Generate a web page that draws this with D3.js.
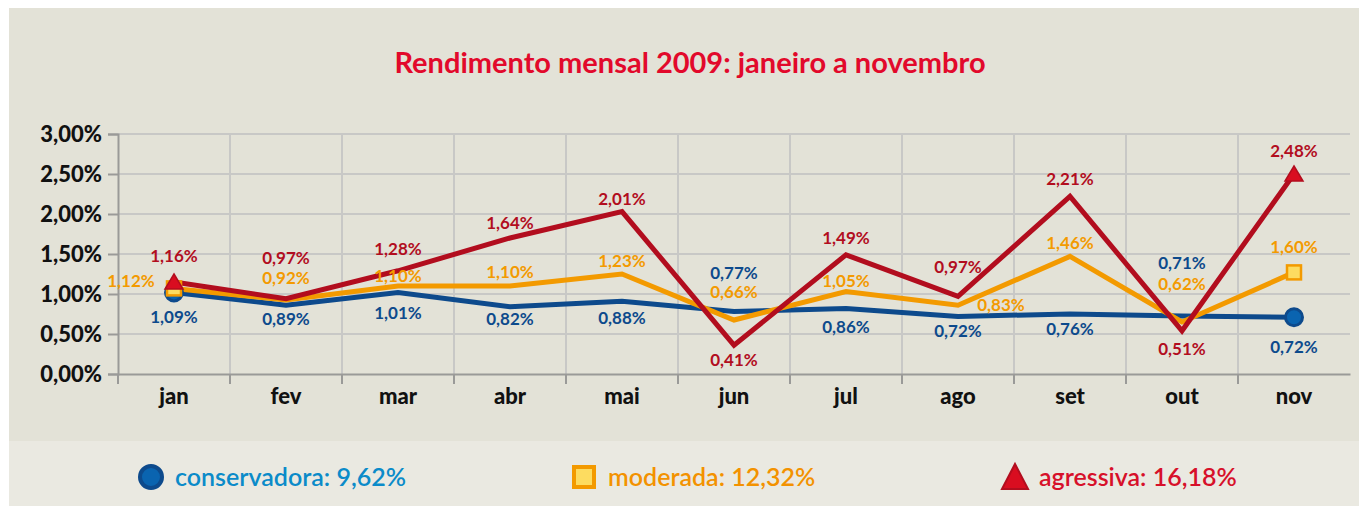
<!DOCTYPE html>
<html>
<head>
<meta charset="utf-8">
<script src="https://cdn.jsdelivr.net/npm/d3@7"></script>
<style>
  body { margin: 0; background: #fff; }
  text { font-family: Lato, "Open Sans", sans-serif; }
</style>
</head>
<body>
<div id="chart"></div>
<script>
// months and plotted values (percent)
var months = ['jan', 'fev', 'mar', 'abr', 'mai', 'jun', 'jul', 'ago', 'set', 'out', 'nov'];
var conservadora = [1.02, 0.86, 1.02, 0.84, 0.91, 0.78, 0.82, 0.72, 0.75, 0.725, 0.71];
var moderada = [1.07, 0.925, 1.10, 1.10, 1.25, 0.675, 1.03, 0.86, 1.47, 0.65, 1.27];
var agressiva = [1.15, 0.94, 1.29, 1.70, 2.03, 0.36, 1.49, 0.97, 2.22, 0.54, 2.50];

// printed value labels
var conservadoraLabels = ['1,09%', '0,89%', '1,01%', '0,82%', '0,88%', '0,77%', '0,86%', '0,72%', '0,76%', '0,71%', '0,72%'];
var moderadaLabels = ['1,12%', '0,92%', '1,10%', '1,10%', '1,23%', '0,66%', '1,05%', '0,83%', '1,46%', '0,62%', '1,60%'];
var agressivaLabels = ['1,16%', '0,97%', '1,28%', '1,64%', '2,01%', '0,41%', '1,49%', '0,97%', '2,21%', '0,51%', '2,48%'];

var yTicks = [0, 0.5, 1, 1.5, 2, 2.5, 3];
var legendItems = ['conservadora: 9,62%', 'moderada: 12,32%', 'agressiva: 16,18%'];
var title = 'Rendimento mensal 2009: janeiro a novembro';

// label placement (pixel offsets from the point)
var consDy = [25, 14, 21, 12, 17, -39, 19, 15, 15, -53, 30];
var modDy = [-7, -22, -10, -14, -13, -28, -11, 0, -13, -38, -25];
var modDx = [-43, 0, 0, 0, 0, 0, 0, 43, 0, 0, 0];
var aggDy = [-26, -41, -22, -15, -13, 15, -17, -29, -17, 18, -23];

var W = 1359, H = 506;
var margin = { top: 134, right: 9, bottom: 132, left: 118 };

var svg = d3.select('#chart').append('svg')
  .attr('width', W)
  .attr('height', H);

// panels
svg.append('rect').attr('x', 9).attr('y', 8).attr('width', W - 9).attr('height', 433).attr('fill', '#e3e2d7');
svg.append('rect').attr('x', 9).attr('y', 441).attr('width', W - 9).attr('height', H - 441).attr('fill', '#eae9e1');

svg.append('text')
  .attr('x', 690).attr('y', 73)
  .attr('text-anchor', 'middle')
  .attr('font-size', 29).attr('font-weight', 'bold')
  .attr('fill', '#e2092b')
  .text(title);

var x = d3.scaleBand().domain(months).range([margin.left, W - margin.right]);
var y = d3.scaleLinear().domain([0, 3]).range([H - margin.bottom, margin.top]);

// grid
svg.append('g').selectAll('line').data(yTicks.slice(1)).enter().append('line')
  .attr('x1', margin.left).attr('x2', W - margin.right)
  .attr('y1', function (d) { return y(d); }).attr('y2', function (d) { return y(d); })
  .attr('stroke', '#c8c8c6').attr('stroke-width', 2);

svg.append('g').selectAll('line').data(months.slice(1)).enter().append('line')
  .attr('x1', function (d) { return x(d); }).attr('x2', function (d) { return x(d); })
  .attr('y1', y(3)).attr('y2', y(0))
  .attr('stroke', '#c8c8c6').attr('stroke-width', 2);

// y axis
var yAxis = svg.append('g')
  .attr('transform', 'translate(' + margin.left + ',0)')
  .call(d3.axisLeft(y).tickValues(yTicks).tickSize(10).tickPadding(6)
    .tickFormat(function (d) { return d3.format('.2f')(d).replace('.', ',') + '%'; }));
yAxis.select('.domain').attr('stroke', '#9a9a98').attr('stroke-width', 2);
yAxis.selectAll('.tick line').attr('stroke', '#9a9a98').attr('stroke-width', 2);
yAxis.selectAll('.tick text')
  .attr('font-family', 'Lato, sans-serif')
  .attr('font-size', 22).attr('font-weight', 900).attr('fill', '#111');

// x axis: boundary ticks + centred month labels
var xAxis = svg.append('g')
  .attr('transform', 'translate(0,' + y(0) + ')')
  .call(d3.axisBottom(x).tickSize(0).tickPadding(14));
xAxis.select('.domain').attr('stroke', '#9a9a98').attr('stroke-width', 2);
xAxis.selectAll('.tick text')
  .attr('font-family', 'Lato, sans-serif')
  .attr('font-size', 22).attr('font-weight', 900).attr('fill', '#111');
xAxis.selectAll('.bound').data(months).enter().append('line')
  .attr('class', 'bound')
  .attr('x1', function (d) { return x(d); }).attr('x2', function (d) { return x(d); })
  .attr('y1', 0).attr('y2', 10)
  .attr('stroke', '#9a9a98').attr('stroke-width', 2);

var cx = function (i) { return x(months[i]) + x.bandwidth() / 2; };

var series = [
  { values: conservadora, labels: conservadoraLabels, color: '#0d4a8c', dy: consDy, dx: null },
  { values: moderada, labels: moderadaLabels, color: '#f39a00', dy: modDy, dx: modDx },
  { values: agressiva, labels: agressivaLabels, color: '#b20d1e', dy: aggDy, dx: null }
];

var line = d3.line()
  .x(function (d, i) { return cx(i); })
  .y(function (d) { return y(d); });

series.forEach(function (s) {
  svg.append('path')
    .datum(s.values)
    .attr('d', line)
    .attr('fill', 'none')
    .attr('stroke', s.color)
    .attr('stroke-width', 5)
    .attr('stroke-linejoin', 'miter');
});

// markers at first and last month
function drawMarkers(g, i) {
  g.append('circle')
    .attr('cx', cx(i)).attr('cy', y(conservadora[i])).attr('r', 8.5)
    .attr('fill', '#0a64b0').attr('stroke', '#0d4a8c').attr('stroke-width', 3);
  g.append('rect')
    .attr('x', cx(i) - 7).attr('y', y(moderada[i]) - 7).attr('width', 14).attr('height', 14)
    .attr('fill', '#fddc60').attr('stroke', '#f39a00').attr('stroke-width', 2.5);
  g.append('path')
    .attr('transform', 'translate(' + cx(i) + ',' + (y(agressiva[i]) + 1) + ')')
    .attr('d', 'M0,-9L9,6L-9,6Z')
    .attr('fill', '#d90d20').attr('stroke', '#b20d1e').attr('stroke-width', 1.5);
}
var mk = svg.append('g');
drawMarkers(mk, 0);
drawMarkers(mk, months.length - 1);

// value labels
series.forEach(function (s) {
  svg.append('g').selectAll('text').data(s.labels).enter().append('text')
    .attr('x', function (d, i) { return cx(i) + (s.dx ? s.dx[i] : 0); })
    .attr('y', function (d, i) { return y(s.values[i]) + s.dy[i]; })
    .attr('dy', '0.35em')
    .attr('text-anchor', 'middle')
    .attr('font-size', 17).attr('font-weight', 'bold')
    .attr('fill', s.color)
    .text(function (d) { return d; });
});

// legend
var legendX = [151, 584, 1015];
var legendColors = ['#0b8bc9', '#f39200', '#d7102a'];
var lg = svg.append('g');
lg.append('circle').attr('cx', legendX[0]).attr('cy', 477).attr('r', 11)
  .attr('fill', '#0a64b0').attr('stroke', '#0d4a8c').attr('stroke-width', 4);
lg.append('rect').attr('x', legendX[1] - 10).attr('y', 467).attr('width', 20).attr('height', 20)
  .attr('fill', '#fddc60').attr('stroke', '#f39a00').attr('stroke-width', 4);
lg.append('path').attr('transform', 'translate(' + legendX[2] + ',477)')
  .attr('d', 'M0,-13L13,12L-13,12Z')
  .attr('fill', '#d90d20').attr('stroke', '#b20d1e').attr('stroke-width', 2);
lg.selectAll('text').data(legendItems).enter().append('text')
  .attr('x', function (d, i) { return legendX[i] + 24; })
  .attr('y', 486)
  .attr('font-size', 25).attr('font-weight', 600)
  .attr('fill', function (d, i) { return legendColors[i]; })
  .text(function (d) { return d; });
</script>
</body>
</html>
